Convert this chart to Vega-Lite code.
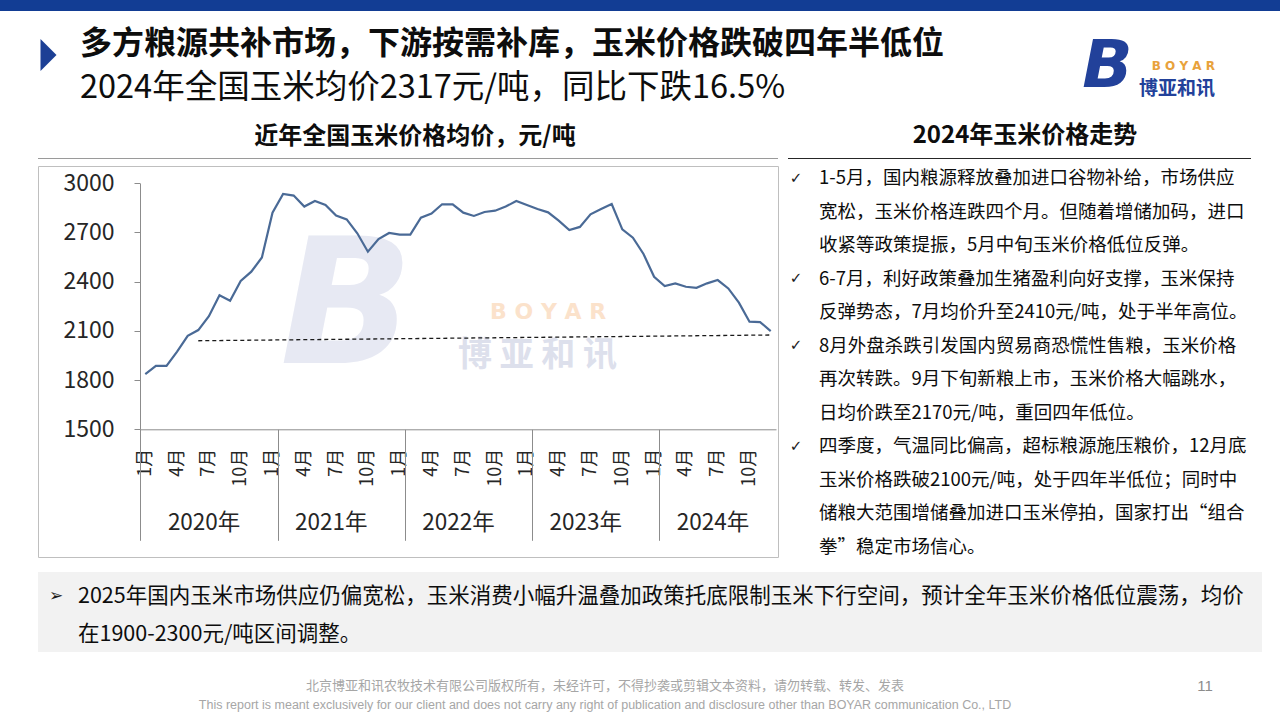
{
  "$schema": "https://vega.github.io/schema/vega-lite/v6.json",
  "padding": 0,
  "background": "white",
  "columns": 10,
  "spacing": 0,
  "bounds": "flush",
  "align": "each",
  "config": {
    "view": {"stroke": null},
    "font": "Noto Sans CJK SC",
    "title": {"font": "Noto Sans CJK SC", "subtitleFont": "Noto Sans CJK SC", "frame": "group", "orient": "bottom", "baseline": "top"}
  },
  "concat": [
    {"width": 38, "height": 11, "data": {"values": []}, "mark": "text", "view": {"fill": "#123d94"}},
    {"width": 740, "height": 11, "data": {"values": []}, "mark": "text", "view": {"fill": "#123d94"}},
    {"width": 10, "height": 11, "data": {"values": []}, "mark": "text", "view": {"fill": "#123d94"}},
    {"width": 31, "height": 11, "data": {"values": []}, "mark": "text", "view": {"fill": "#123d94"}},
    {"width": 256, "height": 11, "data": {"values": []}, "mark": "text", "view": {"fill": "#123d94"}},
    {"width": 65, "height": 11, "data": {"values": []}, "mark": "text", "view": {"fill": "#123d94"}},
    {"width": 75, "height": 11, "data": {"values": []}, "mark": "text", "view": {"fill": "#123d94"}},
    {"width": 36, "height": 11, "data": {"values": []}, "mark": "text", "view": {"fill": "#123d94"}},
    {"width": 11, "height": 11, "data": {"values": []}, "mark": "text", "view": {"fill": "#123d94"}},
    {"width": 18, "height": 11, "data": {"values": []}, "mark": "text", "view": {"fill": "#123d94"}},

    {"width": 1, "height": 1, "data": {"values": []}, "mark": "text"},
    {"width": 21, "height": 88, "data": {"values": [{"k": "marker"}]},
     "mark": {"type": "point", "shape": "M -0.5 -1 L 0.5 0 L -0.5 1 Z", "filled": true, "size": 1024, "color": "#1c3f95", "opacity": 1, "strokeWidth": 0},
     "title": {"text": "多方粮源共补市场，下游按需补库，玉米价格跌破四年半低位", "subtitle": "2024年全国玉米均价2317元/吨，同比下跌16.5%",
               "anchor": "start", "offset": -70, "dx": 42, "fontSize": 32, "fontWeight": "bold", "color": "#0d0d0d",
               "subtitleFontSize": 32.5, "subtitleFontWeight": "normal", "subtitleColor": "#0d0d0d", "subtitlePadding": 11}},
    {"width": 1, "height": 1, "data": {"values": []}, "mark": "text"},
    {"width": 1, "height": 1, "data": {"values": []}, "mark": "text"},
    {"width": 1, "height": 1, "data": {"values": []}, "mark": "text"},
    {"width": 65, "height": 102, "data": {"values": [{"t": "B"}]},
     "mark": {"type": "text", "fontSize": 66, "fontWeight": "bold", "fontStyle": "italic", "color": "#22419a", "baseline": "middle", "align": "center", "dy": 5, "font": "DejaVu Sans"},
     "encoding": {"text": {"field": "t"}}},
    {"width": 75, "height": 102, "data": {"values": []}, "mark": "text",
     "title": {"text": "B O Y A R", "subtitle": "博亚和讯", "anchor": "end", "offset": -52, "fontSize": 12, "fontWeight": "bold", "color": "#e8a23c", "font": "DejaVu Sans",
               "subtitleFontSize": 19, "subtitleFontWeight": "bold", "subtitleColor": "#22419a", "subtitlePadding": 7}},
    {"width": 1, "height": 1, "data": {"values": []}, "mark": "text"},
    {"width": 1, "height": 1, "data": {"values": []}, "mark": "text"},
    {"width": 1, "height": 1, "data": {"values": []}, "mark": "text"},

    {"width": 1, "height": 1, "data": {"values": []}, "mark": "text"},
    {"width": 740, "height": 45, "data": {"values": []}, "mark": "text",
     "title": {"text": "近年全国玉米价格均价，元/吨", "anchor": "middle", "offset": -33, "dx": 7, "fontSize": 24, "fontWeight": "bold", "color": "#0d0d0d"}},
    {"width": 1, "height": 1, "data": {"values": []}, "mark": "text"},
    {"width": 1, "height": 1, "data": {"values": []}, "mark": "text"},
    {"width": 256, "height": 45, "data": {"values": []}, "mark": "text",
     "title": {"text": "2024年玉米价格走势", "anchor": "middle", "offset": -34, "dx": 78, "fontSize": 24, "fontWeight": "bold", "color": "#0d0d0d"}},
    {"width": 1, "height": 1, "data": {"values": []}, "mark": "text"},
    {"width": 1, "height": 1, "data": {"values": []}, "mark": "text"},
    {"width": 1, "height": 1, "data": {"values": []}, "mark": "text"},
    {"width": 1, "height": 1, "data": {"values": []}, "mark": "text"},
    {"width": 1, "height": 1, "data": {"values": []}, "mark": "text"},

    {"width": 1, "height": 1, "data": {"values": []}, "mark": "text"},
    {"width": 740, "height": 1, "data": {"values": []}, "mark": "text", "view": {"fill": "#9a9a9a"}},
    {"width": 1, "height": 1, "data": {"values": []}, "mark": "text"},
    {"width": 31, "height": 1, "data": {"values": []}, "mark": "text", "view": {"fill": "#262626"}},
    {"width": 256, "height": 1, "data": {"values": []}, "mark": "text", "view": {"fill": "#262626"}},
    {"width": 65, "height": 1, "data": {"values": []}, "mark": "text", "view": {"fill": "#262626"}},
    {"width": 75, "height": 1, "data": {"values": []}, "mark": "text", "view": {"fill": "#262626"}},
    {"width": 36, "height": 1, "data": {"values": []}, "mark": "text", "view": {"fill": "#262626"}},
    {"width": 1, "height": 1, "data": {"values": []}, "mark": "text"},
    {"width": 1, "height": 1, "data": {"values": []}, "mark": "text"},

    {"width": 1, "height": 7, "data": {"values": []}, "mark": "text"},
    {"width": 1, "height": 1, "data": {"values": []}, "mark": "text"},
    {"width": 1, "height": 1, "data": {"values": []}, "mark": "text"},
    {"width": 1, "height": 1, "data": {"values": []}, "mark": "text"},
    {"width": 1, "height": 1, "data": {"values": []}, "mark": "text"},
    {"width": 1, "height": 1, "data": {"values": []}, "mark": "text"},
    {"width": 1, "height": 1, "data": {"values": []}, "mark": "text"},
    {"width": 1, "height": 1, "data": {"values": []}, "mark": "text"},
    {"width": 1, "height": 1, "data": {"values": []}, "mark": "text"},
    {"width": 1, "height": 1, "data": {"values": []}, "mark": "text"},

    {"width": 1, "height": 1, "data": {"values": []}, "mark": "text"},
    {
      "width": 740, "height": 391,
      "view": {"stroke": "#bfbfbf", "strokeWidth": 1},
      "resolve": {"scale": {"x": "shared", "y": "shared"}, "axis": {"x": "independent", "y": "independent"}},
      "layer": [
        {"data": {"values": [{"t": "B"}]},
         "mark": {"type": "text", "fontSize": 175, "fontWeight": "bold", "fontStyle": "italic", "color": "#e7e9f3", "baseline": "middle", "align": "center", "font": "DejaVu Sans"},
         "encoding": {"x": {"datum": "2021-08", "type": "ordinal", "axis": null}, "y": {"datum": 2230, "type": "quantitative", "axis": null}, "text": {"field": "t"}}},
        {"data": {"values": [{"t": "B  O  Y  A  R"}]},
         "mark": {"type": "text", "fontSize": 22, "fontWeight": "bold", "color": "#fbe2cb", "baseline": "middle", "align": "center", "font": "DejaVu Sans"},
         "encoding": {"x": {"datum": "2023-03", "type": "ordinal", "axis": null}, "y": {"datum": 2215, "type": "quantitative", "axis": null}, "text": {"field": "t"}}},
        {"data": {"values": [{"t": "博 亚 和 讯"}]},
         "mark": {"type": "text", "fontSize": 34, "fontWeight": "bold", "color": "#dde0ec", "baseline": "middle", "align": "center"},
         "encoding": {"x": {"datum": "2023-02", "type": "ordinal", "axis": null}, "y": {"datum": 1945, "type": "quantitative", "axis": null}, "text": {"field": "t"}}},
        {
          "data": {"values": [
            {"m": "2020-01", "v": 1837}, {"m": "2020-02", "v": 1887}, {"m": "2020-03", "v": 1887}, {"m": "2020-04", "v": 1973},
            {"m": "2020-05", "v": 2070}, {"m": "2020-06", "v": 2105}, {"m": "2020-07", "v": 2190}, {"m": "2020-08", "v": 2317},
            {"m": "2020-09", "v": 2284}, {"m": "2020-10", "v": 2404}, {"m": "2020-11", "v": 2461}, {"m": "2020-12", "v": 2548},
            {"m": "2021-01", "v": 2821}, {"m": "2021-02", "v": 2935}, {"m": "2021-03", "v": 2925}, {"m": "2021-04", "v": 2858},
            {"m": "2021-05", "v": 2892}, {"m": "2021-06", "v": 2868}, {"m": "2021-07", "v": 2803}, {"m": "2021-08", "v": 2780},
            {"m": "2021-09", "v": 2695}, {"m": "2021-10", "v": 2583}, {"m": "2021-11", "v": 2660}, {"m": "2021-12", "v": 2697},
            {"m": "2022-01", "v": 2687}, {"m": "2022-02", "v": 2687}, {"m": "2022-03", "v": 2790}, {"m": "2022-04", "v": 2815},
            {"m": "2022-05", "v": 2872}, {"m": "2022-06", "v": 2872}, {"m": "2022-07", "v": 2821}, {"m": "2022-08", "v": 2801},
            {"m": "2022-09", "v": 2825}, {"m": "2022-10", "v": 2833}, {"m": "2022-11", "v": 2858}, {"m": "2022-12", "v": 2892},
            {"m": "2023-01", "v": 2868}, {"m": "2023-02", "v": 2843}, {"m": "2023-03", "v": 2823}, {"m": "2023-04", "v": 2772},
            {"m": "2023-05", "v": 2715}, {"m": "2023-06", "v": 2734}, {"m": "2023-07", "v": 2811}, {"m": "2023-08", "v": 2843},
            {"m": "2023-09", "v": 2874}, {"m": "2023-10", "v": 2719}, {"m": "2023-11", "v": 2668}, {"m": "2023-12", "v": 2569},
            {"m": "2024-01", "v": 2430}, {"m": "2024-02", "v": 2374}, {"m": "2024-03", "v": 2390}, {"m": "2024-04", "v": 2369},
            {"m": "2024-05", "v": 2363}, {"m": "2024-06", "v": 2390}, {"m": "2024-07", "v": 2410}, {"m": "2024-08", "v": 2359},
            {"m": "2024-09", "v": 2272}, {"m": "2024-10", "v": 2156}, {"m": "2024-11", "v": 2154}, {"m": "2024-12", "v": 2099}
          ]},
          "mark": {"type": "line", "color": "#4a6a96", "strokeWidth": 2.2},
          "encoding": {
            "x": {"field": "m", "type": "ordinal", "scale": {"type": "point", "padding": 0.5, "range": [102, 738]},
                  "axis": {"orient": "bottom", "offset": -127.7, "title": null,
                           "values": ["2020-01","2020-04","2020-07","2020-10","2021-01","2021-04","2021-07","2021-10","2022-01","2022-04","2022-07","2022-10","2023-01","2023-04","2023-07","2023-10","2024-01","2024-04","2024-07","2024-10"],
                           "labelExpr": "toNumber(slice(datum.value, 5)) + '月'", "labelAngle": 270, "labelFontSize": 18, "labelColor": "#262626",
                           "labelFont": "Noto Sans CJK SC", "ticks": false, "tickSize": 0, "labelPadding": 19, "domainColor": "#8c8c8c", "labelOverlap": false}},
            "y": {"field": "v", "type": "quantitative", "scale": {"domain": [1500, 3000], "range": [263.3, 17.3], "nice": false, "zero": false},
                  "axis": {"orient": "left", "offset": -102, "title": null, "values": [1500, 1800, 2100, 2400, 2700, 3000], "format": "d", "grid": false,
                           "tickSize": 6, "tickColor": "#8c8c8c", "domainColor": "#8c8c8c", "labelFontSize": 23, "labelPadding": 20,
                           "labelColor": "#262626", "labelFont": "Noto Sans CJK SC"}}
          }
        },
        {
          "data": {"values": [{"m": "2020-06", "v": 2040}, {"m": "2024-12", "v": 2075}]},
          "mark": {"type": "line", "color": "#1a1a1a", "strokeDash": [4, 3], "strokeWidth": 1.3},
          "encoding": {
            "x": {"field": "m", "type": "ordinal",
                  "axis": {"orient": "bottom", "offset": -127.7, "title": null, "values": ["2020-06","2021-06","2022-06","2023-06","2024-06"],
                           "labelExpr": "slice(datum.value, 0, 4) + '年'", "labelAngle": 0, "labelOffset": 5.3, "labelPadding": 82,
                           "labelFontSize": 22.5, "labelColor": "#262626", "labelFont": "Noto Sans CJK SC", "ticks": false, "tickSize": 0, "domain": false, "labelOverlap": false}},
            "y": {"field": "v", "type": "quantitative", "axis": null}
          }
        },
        {
          "data": {"values": []},
          "mark": "point",
          "encoding": {
            "x": {"field": "m", "type": "ordinal",
                  "axis": {"orient": "bottom", "offset": -127.7, "title": null, "values": ["2021-01","2022-01","2023-01","2024-01"],
                           "tickOffset": 5.3, "tickSize": 111, "tickColor": "#8c8c8c", "tickWidth": 1, "labels": false, "domain": false}},
            "y": {"field": "v", "type": "quantitative", "axis": null}
          }
        },
        {
          "data": {"values": []},
          "mark": "point",
          "encoding": {
            "x": {"field": "m", "type": "ordinal",
                  "axis": {"orient": "bottom", "offset": -127.7, "title": null, "values": ["2020-01"],
                           "tickOffset": -5.3, "tickSize": 111, "tickColor": "#8c8c8c", "tickWidth": 1, "labels": false, "domain": false}},
            "y": {"field": "v", "type": "quantitative", "axis": null}
          }
        }
      ]
    },
    {"width": 1, "height": 1, "data": {"values": []}, "mark": "text"},
    {"width": 16, "height": 391,
     "data": {"values": [{"line": 1, "t": "✓"}, {"line": 4, "t": "✓"}, {"line": 6, "t": "✓"}, {"line": 9, "t": "✓"}]},
     "mark": {"type": "text", "fontSize": 15, "font": "DejaVu Sans", "color": "#1a1a1a", "align": "center", "baseline": "middle"},
     "encoding": {
       "y": {"field": "line", "type": "quantitative", "scale": {"domain": [1, 12], "range": [11.5, 380], "nice": false, "zero": false}, "axis": null},
       "text": {"field": "t"}
     }},
    {"width": 256, "height": 391, "data": {"values": []}, "mark": "text",
     "title": {"text": [
        "1-5月，国内粮源释放叠加进口谷物补给，市场供应",
        "宽松，玉米价格连跌四个月。但随着增储加码，进口",
        "收紧等政策提振，5月中旬玉米价格低位反弹。",
        "6-7月，利好政策叠加生猪盈利向好支撑，玉米保持",
        "反弹势态，7月均价升至2410元/吨，处于半年高位。",
        "8月外盘杀跌引发国内贸易商恐慌性售粮，玉米价格",
        "再次转跌。9月下旬新粮上市，玉米价格大幅跳水，",
        "日均价跌至2170元/吨，重回四年低位。",
        "四季度，气温同比偏高，超标粮源施压粮价，12月底",
        "玉米价格跌破2100元/吨，处于四年半低位；同时中",
        "储粮大范围增储叠加进口玉米停拍，国家打出“组合",
        "拳”稳定市场信心。"],
      "anchor": "start", "offset": -388, "fontSize": 18.5, "fontWeight": "normal", "color": "#0d0d0d", "lineHeight": 33.5}},
    {"width": 1, "height": 1, "data": {"values": []}, "mark": "text"},
    {"width": 1, "height": 1, "data": {"values": []}, "mark": "text"},
    {"width": 1, "height": 1, "data": {"values": []}, "mark": "text"},
    {"width": 1, "height": 1, "data": {"values": []}, "mark": "text"},
    {"width": 1, "height": 1, "data": {"values": []}, "mark": "text"},

    {"width": 1, "height": 15, "data": {"values": []}, "mark": "text"},
    {"width": 1, "height": 1, "data": {"values": []}, "mark": "text"},
    {"width": 1, "height": 1, "data": {"values": []}, "mark": "text"},
    {"width": 1, "height": 1, "data": {"values": []}, "mark": "text"},
    {"width": 1, "height": 1, "data": {"values": []}, "mark": "text"},
    {"width": 1, "height": 1, "data": {"values": []}, "mark": "text"},
    {"width": 1, "height": 1, "data": {"values": []}, "mark": "text"},
    {"width": 1, "height": 1, "data": {"values": []}, "mark": "text"},
    {"width": 1, "height": 1, "data": {"values": []}, "mark": "text"},
    {"width": 1, "height": 1, "data": {"values": []}, "mark": "text"},

    {"width": 1, "height": 1, "data": {"values": []}, "mark": "text"},
    {"width": 740, "height": 80, "data": {"values": []}, "mark": "text", "view": {"fill": "#f2f2f2"},
     "title": {"text": "➢", "anchor": "start", "dx": 11, "offset": -64, "fontSize": 17, "fontWeight": "normal", "color": "#1a1a1a", "font": "DejaVu Sans"}},
    {"width": 10, "height": 80, "data": {"values": []}, "mark": "text", "view": {"fill": "#f2f2f2"}},
    {"width": 31, "height": 80, "data": {"values": []}, "mark": "text", "view": {"fill": "#f2f2f2"}},
    {"width": 256, "height": 80, "data": {"values": []}, "mark": "text", "view": {"fill": "#f2f2f2"}},
    {"width": 65, "height": 80, "data": {"values": []}, "mark": "text", "view": {"fill": "#f2f2f2"}},
    {"width": 75, "height": 80, "data": {"values": []}, "mark": "text", "view": {"fill": "#f2f2f2"}},
    {"width": 36, "height": 80, "data": {"values": []}, "mark": "text", "view": {"fill": "#f2f2f2"}},
    {"width": 11, "height": 80, "data": {"values": []}, "mark": "text", "view": {"fill": "#f2f2f2"},
     "title": {"text": ["2025年国内玉米市场供应仍偏宽松，玉米消费小幅升温叠加政策托底限制玉米下行空间，预计全年玉米价格低位震荡，均价", "在1900-2300元/吨区间调整。"],
               "anchor": "start", "dx": -1173, "offset": -66, "fontSize": 21.5, "fontWeight": "normal", "color": "#0d0d0d", "lineHeight": 38}},
    {"width": 1, "height": 1, "data": {"values": []}, "mark": "text"},

    {"width": 1, "height": 1, "data": {"values": []}, "mark": "text"},
    {"width": 740, "height": 68, "data": {"values": []}, "mark": "text",
     "title": {"text": "北京博亚和讯农牧技术有限公司版权所有，未经许可，不得抄袭或剪辑文本资料，请勿转载、转发、发表",
               "subtitle": "This report is meant exclusively for our client and does not carry any right of publication and disclosure other than BOYAR communication Co., LTD",
               "anchor": "middle", "dx": 197, "offset": -40.5, "fontSize": 13, "fontWeight": "normal", "color": "#a6a6a6",
               "subtitleFont": "Liberation Sans", "subtitleFontSize": 12.5, "subtitleColor": "#a6a6a6", "subtitlePadding": 6}},
    {"width": 1, "height": 1, "data": {"values": []}, "mark": "text"},
    {"width": 1, "height": 1, "data": {"values": []}, "mark": "text"},
    {"width": 1, "height": 1, "data": {"values": []}, "mark": "text"},
    {"width": 1, "height": 1, "data": {"values": []}, "mark": "text"},
    {"width": 75, "height": 68, "data": {"values": []}, "mark": "text",
     "title": {"text": "11", "anchor": "middle", "dx": 27.5, "offset": -41.5, "fontSize": 15, "fontWeight": "normal", "color": "#8c8c8c", "font": "Liberation Sans"}},
    {"width": 1, "height": 1, "data": {"values": []}, "mark": "text"},
    {"width": 1, "height": 1, "data": {"values": []}, "mark": "text"},
    {"width": 1, "height": 1, "data": {"values": []}, "mark": "text"}
  ]
}
